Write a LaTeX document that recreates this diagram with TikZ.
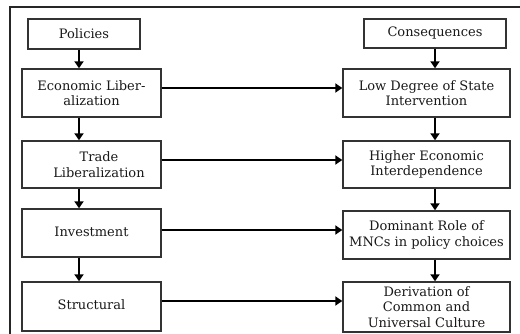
\documentclass[tikz,border=0pt]{standalone}
\usepackage{fontspec}
\setmainfont{DejaVu Serif}
\usetikzlibrary{arrows.meta}
\begin{document}
\begin{tikzpicture}[x=1pt,y=-1pt,
  box/.style={draw=black!80,line width=1.4pt,fill=white,align=center,inner sep=0pt,
    font=\fontsize{13}{15.5}\selectfont,text=black!90},
  lbox/.style={box,minimum width=139pt,minimum height=48pt},
  rbox/.style={box,minimum width=167pt,minimum height=48pt},
  arr/.style={draw=black,line width=2.3pt,-{Triangle[length=7pt,width=9pt]}},
  frame/.style={draw=black!85,line width=1.3pt}]
\useasboundingbox[fill=white] (0,0) rectangle (520,334);
\coordinate (ftop) at (520,7);
\coordinate (fcorner) at (10,7);
\coordinate (fbot) at (10,334);
\draw[frame] (ftop) -- (fcorner) -- (fbot);
% left column
\node[box,minimum width=112pt,minimum height=30pt] (pol) at (84,34) {Policies};
\node[lbox] (el) at (91.5,93) {Economic Liber-\\alization};
\node[lbox,minimum height=47pt] (tl) at (91.5,164.5) {\hspace*{15pt}Trade\\\hspace*{15pt}Liberalization};
\node[lbox] (inv) at (91.5,233) {\raisebox{3pt}{Investment}};
\node[lbox,minimum height=49pt] (str) at (91.5,306.5) {\raisebox{3pt}{Structural}};
% right column
\node[box,minimum width=142pt,minimum height=29pt] (con) at (435,33.5) {Consequences};
\node[rbox] (ld) at (426.5,93) {Low Degree of State\\Intervention};
\node[rbox,minimum height=47pt] (hi) at (426.5,164.5) {Higher Economic\\Interdependence};
\node[rbox] (dom) at (426.5,235) {Dominant Role of\\MNCs in policy choices};
\node[rbox,minimum height=50pt] (der) at (426.5,307) {Derivation of\\Common and\\Universal Culture};
% vertical arrows
\draw[arr] (pol.south -| 79,0) -- (el.north -| 79,0);
\draw[arr] (el.south -| 79,0) -- (tl.north -| 79,0);
\draw[arr] (tl.south -| 79,0) -- (inv.north -| 79,0);
\draw[arr] (inv.south -| 79,0) -- (str.north -| 79,0);
\draw[arr] (con.south -| 435,0) -- (ld.north -| 435,0);
\draw[arr] (ld.south -| 435,0) -- (hi.north -| 435,0);
\draw[arr] (hi.south -| 435,0) -- (dom.north -| 435,0);
\draw[arr] (dom.south -| 435,0) -- (der.north -| 435,0);
% horizontal arrows
\draw[arr] (el.east |- 0,88) -- (ld.west |- 0,88);
\draw[arr] (tl.east |- 0,160) -- (hi.west |- 0,160);
\draw[arr] (inv.east |- 0,230) -- (dom.west |- 0,230);
\draw[arr] (str.east |- 0,301) -- (der.west |- 0,301);
\end{tikzpicture}
\end{document}
